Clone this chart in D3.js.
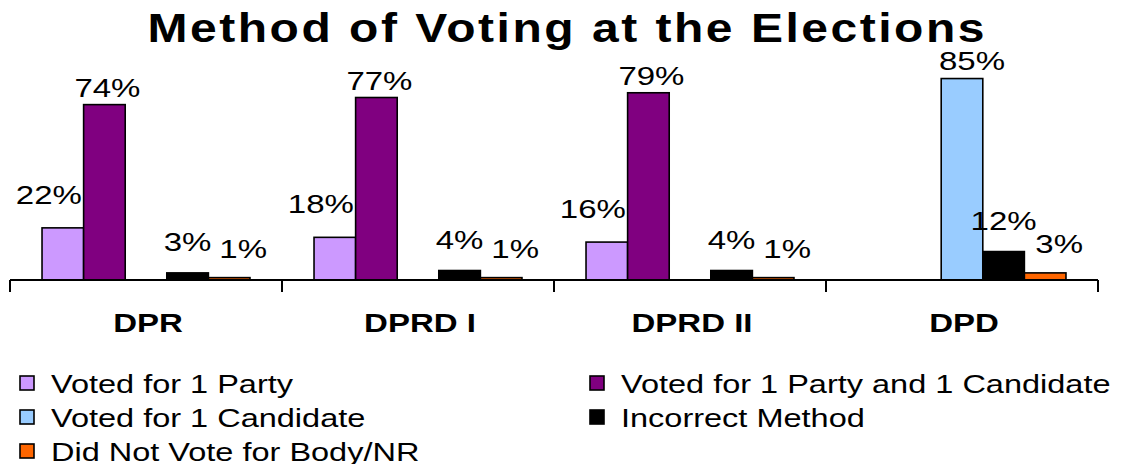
<!DOCTYPE html>
<html>
<head>
<meta charset="utf-8">
<script src="https://cdn.jsdelivr.net/npm/d3@7"></script>
<style>
  html, body { margin: 0; padding: 0; background: #fff; }
  svg { display: block; font-family: "Liberation Sans", Arial, sans-serif; }
</style>
</head>
<body>
<svg id="chart" width="1121" height="464"></svg>
<script>
// ---- data ----
const categories = ["DPR", "DPRD I", "DPRD II", "DPD"];
const seriesNames = [
  "Voted for 1 Party",
  "Voted for 1 Party and 1 Candidate",
  "Voted for 1 Candidate",
  "Incorrect Method",
  "Did Not Vote for Body/NR"
];
const votedParty          = [22, 18, 16, 0];
const votedPartyCandidate = [74, 77, 79, 0];
const votedCandidate      = [0, 0, 0, 85];
const incorrectMethod     = [3, 4, 4, 12];
const didNotVote          = [1, 1, 1, 3];
const seriesValues = [votedParty, votedPartyCandidate, votedCandidate, incorrectMethod, didNotVote];
const title = "Method of Voting at the Elections";

// ---- style / layout ----
const colors = ["#CC99FF", "#800080", "#99CCFF", "#000000", "#FF6600"];
const labelDx = [-14, 3, 10, 0, 14];
const labelDy = [-24, -8, -9, -22, -20];
const SX = 1.27; // horizontal text stretch of the original picture

const svg = d3.select("#chart");

function stretchedText(sel, x, y, sx) {
  return sel.attr("x", 0).attr("y", 0)
    .attr("transform", `translate(${x},${y}) scale(${sx},1)`);
}

// title
stretchedText(svg.append("text"), 566, 42, 1.2)
  .attr("text-anchor", "middle")
  .attr("font-size", 40)
  .attr("font-weight", "bold")
  .attr("textLength", 837 / 1.2)
  .attr("lengthAdjust", "spacing")
  .text(title);

// scales
const baseY = 280;
const x0 = d3.scaleBand().domain(categories).range([10, 1098]).paddingInner(0).paddingOuter(0);
const x1 = d3.scaleBand().domain(d3.range(seriesNames.length)).range([0, x0.bandwidth()])
  .paddingInner(0).paddingOuter(0.77);
const y = d3.scaleLinear().domain([0, 100]).range([baseY, 43]);

// bars
const bars = [];
categories.forEach((c, ci) => {
  seriesValues.forEach((vals, si) => {
    bars.push({ cat: c, s: si, v: vals[ci] });
  });
});

const plot = svg.append("g");
plot.selectAll("rect.bar")
  .data(bars.filter(d => d.v > 0))
  .join("rect")
  .attr("class", "bar")
  .attr("x", d => x0(d.cat) + x1(d.s))
  .attr("y", d => y(d.v))
  .attr("width", x1.bandwidth())
  .attr("height", d => y(0) - y(d.v))
  .attr("fill", d => colors[d.s])
  .attr("stroke", "#000")
  .attr("stroke-width", 1.6);

// x axis
const axisG = svg.append("g");
axisG.append("line")
  .attr("x1", x0.range()[0]).attr("x2", x0.range()[1])
  .attr("y1", baseY).attr("y2", baseY)
  .attr("stroke", "#000").attr("stroke-width", 2);
const tickXs = categories.map(c => x0(c)).concat([x0.range()[1]]);
axisG.selectAll("line.tick")
  .data(tickXs)
  .join("line")
  .attr("class", "tick")
  .attr("x1", d => d).attr("x2", d => d)
  .attr("y1", baseY).attr("y2", baseY + 12)
  .attr("stroke", "#000").attr("stroke-width", 2);

categories.forEach(c => {
  stretchedText(axisG.append("text"), x0(c) + x0.bandwidth() / 2 + 2, 332, 1.27)
    .attr("text-anchor", "middle")
    .attr("font-size", 26)
    .attr("font-weight", "bold")
    .text(c);
});

// value labels
bars.filter(d => d.v > 0).forEach(d => {
  const cx = x0(d.cat) + x1(d.s) + x1.bandwidth() / 2 + labelDx[d.s];
  const cy = y(d.v) + labelDy[d.s];
  stretchedText(svg.append("text"), cx, cy, SX)
    .attr("text-anchor", "middle")
    .attr("font-size", 26)
    .text(d.v + "%");
});

// legend
const legendCols = [20, 590];
const legendRows = [393, 427, 461];
seriesNames.forEach((name, i) => {
  const col = i % 2, row = Math.floor(i / 2);
  const lx = legendCols[col], ly = legendRows[row];
  svg.append("rect")
    .attr("x", lx).attr("y", ly - 17)
    .attr("width", 14).attr("height", 14)
    .attr("fill", colors[i])
    .attr("stroke", "#000").attr("stroke-width", 1.6);
  stretchedText(svg.append("text"), lx + 31, ly, 1.25)
    .attr("text-anchor", "start")
    .attr("font-size", 26)
    .text(name);
});
</script>
</body>
</html>
